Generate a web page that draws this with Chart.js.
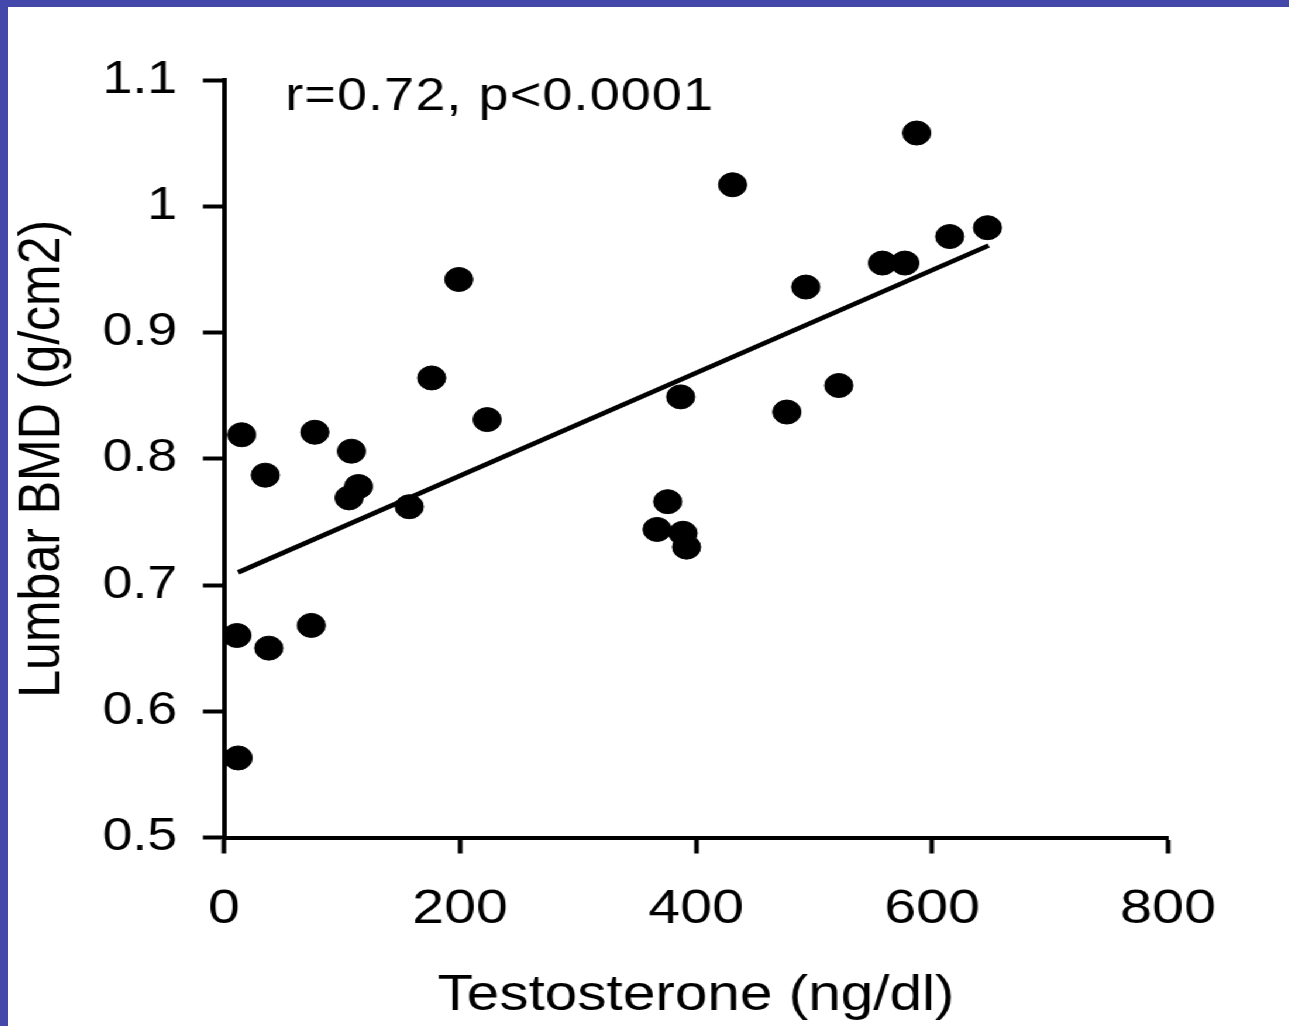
<!DOCTYPE html>
<html>
<head>
<meta charset="utf-8">
<script src="https://cdn.jsdelivr.net/npm/chart.js@4.4.1/dist/chart.umd.min.js"></script>
<style>
  html, body { margin: 0; padding: 0; }
  body { width: 1289px; height: 1026px; background: #4348aa; position: relative; overflow: hidden; }
  /* the source figure is stretched sideways, so the whole plot is widened the same way */
  #wrap {
    position: absolute; left: 8px; top: 7px;
    width: 1095px; height: 1019px;
    background: #fff;
    transform: scaleX(1.17); transform-origin: 0 0;
  }
</style>
</head>
<body>
<div id="wrap"><canvas id="bmdChart" width="1095" height="1019"></canvas></div>
<script>
// values
const testosterone = [12, 11, 15, 35, 38, 74, 77, 108, 106, 114, 157, 176, 199, 223,
  367, 376, 387, 389, 392, 431, 477, 493, 521, 558, 577, 587, 615, 647];
const lumbarBmd = [0.563, 0.660, 0.819, 0.787, 0.650, 0.668, 0.821, 0.806, 0.769, 0.778, 0.762, 0.864, 0.942, 0.831,
  0.744, 0.766, 0.849, 0.741, 0.730, 1.017, 0.837, 0.936, 0.858, 0.955, 0.955, 1.058, 0.976, 0.983];

// regression line end points
const fitX = [12, 648];
const fitY = [0.710, 0.969];

const xTicks = [0, 200, 400, 600, 800];
const yTicks = [0.5, 0.6, 0.7, 0.8, 0.9, 1.0, 1.1];

const statsText = "r=0.72, p<0.0001";
const fontFamily = "'Liberation Sans', Arial, Helvetica, sans-serif";

const toPoints = (xs, ys) => xs.map((x, i) => ({ x: x, y: ys[i] }));

// stats label in the top left corner
const statsLabel = {
  id: "statsLabel",
  afterDraw(chart) {
    const ctx = chart.ctx;
    const xs = chart.scales.x, ys = chart.scales.y;
    ctx.save();
    ctx.fillStyle = "#000";
    ctx.font = "46px " + fontFamily;
    ctx.letterSpacing = "1px";
    ctx.textAlign = "left";
    ctx.textBaseline = "middle";
    ctx.fillText(statsText, xs.getPixelForValue(52), ys.getPixelForValue(1.086));
    ctx.restore();
  },
};

new Chart(document.getElementById("bmdChart"), {
  type: "scatter",
  data: {
    datasets: [
      {
        label: "Patients",
        data: toPoints(testosterone, lumbarBmd),
        backgroundColor: "#000",
        borderColor: "#000",
        pointRadius: 12,
        pointHoverRadius: 12,
        showLine: false,
        clip: false,
      },
      {
        label: "Fit",
        type: "line",
        data: toPoints(fitX, fitY),
        borderColor: "#000",
        borderWidth: 4.5,
        pointRadius: 0,
        fill: false,
        tension: 0,
      },
    ],
  },
  options: {
    responsive: false,
    animation: false,
    devicePixelRatio: 1,
    layout: { padding: { left: 0, right: 103.5, top: 73, bottom: 0 } },
    plugins: {
      legend: { display: false },
      tooltip: { enabled: false },
    },
    scales: {
      x: {
        type: "linear",
        min: 0,
        max: 800,
        afterBuildTicks: (axis) => { axis.ticks = xTicks.map((v) => ({ value: v })); },
        afterFit: (axis) => { axis.height = 188.5; },
        grid: { drawOnChartArea: false, tickLength: 16, tickWidth: 4, tickColor: "#000" },
        border: { display: true, color: "#000", width: 4 },
        ticks: {
          color: "#000",
          font: { size: 49, family: fontFamily },
          padding: 27,
          maxRotation: 0,
          autoSkip: false,
        },
        title: {
          display: true,
          text: "Testosterone (ng/dl)",
          color: "#000",
          font: { size: 50, family: fontFamily },
          padding: { top: 0, bottom: 0 },
        },
      },
      y: {
        type: "linear",
        min: 0.5,
        max: 1.1,
        afterBuildTicks: (axis) => { axis.ticks = yTicks.map((v) => ({ value: v })); },
        afterFit: (axis) => { axis.width = 184.6; },
        grid: { drawOnChartArea: false, tickLength: 18, tickWidth: 4, tickColor: "#000" },
        border: { display: true, color: "#000", width: 4 },
        ticks: {
          color: "#000",
          font: { size: 46, family: fontFamily },
          padding: 22,
          autoSkip: false,
          callback: (v) => String(+v.toFixed(1)),
        },
        title: {
          display: true,
          text: "Lumbar BMD (g/cm2)",
          color: "#000",
          font: { size: 50, family: fontFamily },
          padding: { top: 0, bottom: 0 },
        },
      },
    },
  },
  plugins: [statsLabel],
});
</script>
</body>
</html>
